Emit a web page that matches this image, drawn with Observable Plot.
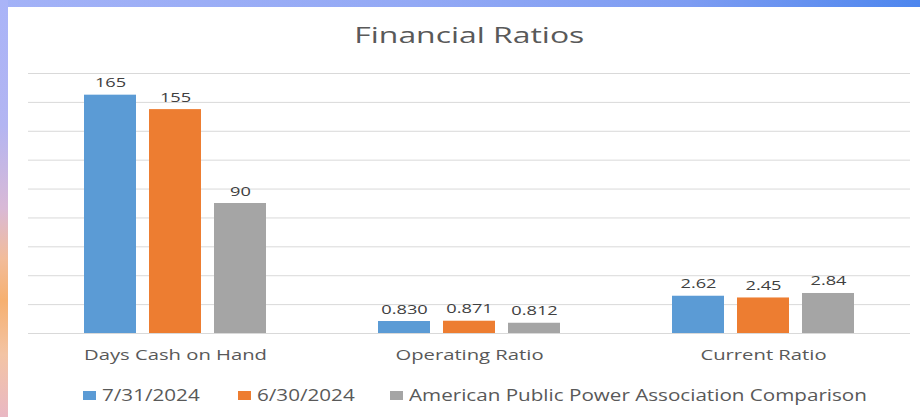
<!DOCTYPE html>
<html><head><meta charset="utf-8">
<script src="https://cdn.jsdelivr.net/npm/d3@7"></script>
<script src="https://cdn.jsdelivr.net/npm/@observablehq/plot@0.6"></script>
<style>
html,body{margin:0;padding:0;}
body{width:920px;height:417px;overflow:hidden;position:relative;font-family:"Open Sans",sans-serif;
 background:linear-gradient(90deg,#a3b2f7 0%,#93a9f5 45%,#7d9cf2 75%,#4d86ee 100%);}
#left{position:absolute;left:0;top:0;width:8px;height:417px;
 background:linear-gradient(180deg,#a9b4f8 0%,#b3b5f2 30%,#d9b9d6 50%,#f2bc9a 62%,#f6b070 72%,#f3c4a4 85%,#e9b8c4 100%);}
#panel{position:absolute;left:8px;top:7px;width:912px;height:410px;background:#fff;}
#title{position:absolute;left:20px;width:882px;top:14px;text-align:center;font-size:22px;line-height:26px;color:#595959;}
#title span{display:inline-block;transform-origin:50% 50%;}
#chart{position:absolute;left:0;top:50px;}
#legend{position:absolute;left:75px;top:372px;display:flex;align-items:center;height:30px;}
.item{display:flex;align-items:center;}
.sw{width:13px;height:9px;margin-right:6px;margin-top:3px;}
.lab{display:inline-block;font-size:16.5px;color:#595959;white-space:nowrap;transform-origin:0 50%;}
</style></head>
<body>
<div id="left"></div>
<div id="panel">
  <div id="title"><span>Financial Ratios</span></div>
  <div id="chart"></div>
  <div id="legend"></div>
</div>
<script>
const categories = ["Days Cash on Hand", "Operating Ratio", "Current Ratio"];
const seriesNames = ["7/31/2024", "6/30/2024", "American Public Power Association Comparison"];
const seriesColors = ["#5b9bd5", "#ed7d31", "#a5a5a5"];
// bar heights as drawn in the picture
const valuesJul = [165, 8.3, 25.8];
const valuesJun = [155, 8.5, 24.6];
const valuesAppa = [90, 7.1, 27.7];
// printed data labels
const labelsJul = ["165", "0.830", "2.62"];
const labelsJun = ["155", "0.871", "2.45"];
const labelsAppa = ["90", "0.812", "2.84"];
const yGrid = [0, 20, 40, 60, 80, 100, 120, 140, 160, 180];

const seriesValues = [valuesJul, valuesJun, valuesAppa];
const seriesLabels = [labelsJul, labelsJun, labelsAppa];
const rows = [];
categories.forEach((c, ci) => seriesNames.forEach((s, si) => {
  rows.push({category: c, series: s, value: seriesValues[si][ci], label: seriesLabels[si][ci]});
}));

const kCat = 1.35, kVal = 1.35, kTitle = 1.45, kLeg = 1.25;

const svg = Plot.plot({
  width: 912, height: 311,
  marginLeft: 20, marginRight: 10, marginTop: 16, marginBottom: 35,
  style: {fontFamily: "Open Sans, sans-serif", background: "transparent"},
  fx: {domain: categories, padding: 0, label: null},
  x: {domain: seriesNames, paddingInner: 0.2, paddingOuter: 0.85, axis: null},
  y: {domain: [0, 180], axis: null},
  color: {domain: seriesNames, range: seriesColors},
  marks: [
    Plot.ruleY(yGrid, {stroke: "#d9d9d9", strokeWidth: 1}),
    Plot.barY(rows, {fx: "category", x: "series", y: "value", fill: "series"}),
    Plot.text(rows, {fx: "category", x: "series", y: "value", text: "label", dy: -8, lineAnchor: "bottom", fontSize: 13.5, fill: "#404040"}),
    Plot.axisFx({anchor: "bottom", tickSize: 0, tickPadding: 16, fontSize: 15, color: "#595959", label: null})
  ]
});
document.getElementById("chart").appendChild(svg);

svg.querySelectorAll("text").forEach(t => {
  const isAxis = !!t.closest("[aria-label^='fx-axis']");
  const k = isAxis ? kCat : kVal;
  t.setAttribute("transform", (t.getAttribute("transform") || "") + ` scale(${k},1)`);
});

document.querySelector("#title span").style.transform = `scaleX(${kTitle})`;

const legend = document.getElementById("legend");
const gaps = [38, 36, 0];
seriesNames.forEach((s, i) => {
  const item = document.createElement("div");
  item.className = "item";
  const sw = document.createElement("div");
  sw.className = "sw"; sw.style.background = seriesColors[i];
  const lab = document.createElement("span");
  lab.className = "lab"; lab.textContent = s;
  lab.style.transform = `scaleX(${kLeg})`;
  item.appendChild(sw); item.appendChild(lab);
  legend.appendChild(item);
  const w = lab.offsetWidth;
  lab.style.marginRight = (w * (kLeg - 1) + gaps[i]) + "px";
});
</script>
</body></html>
